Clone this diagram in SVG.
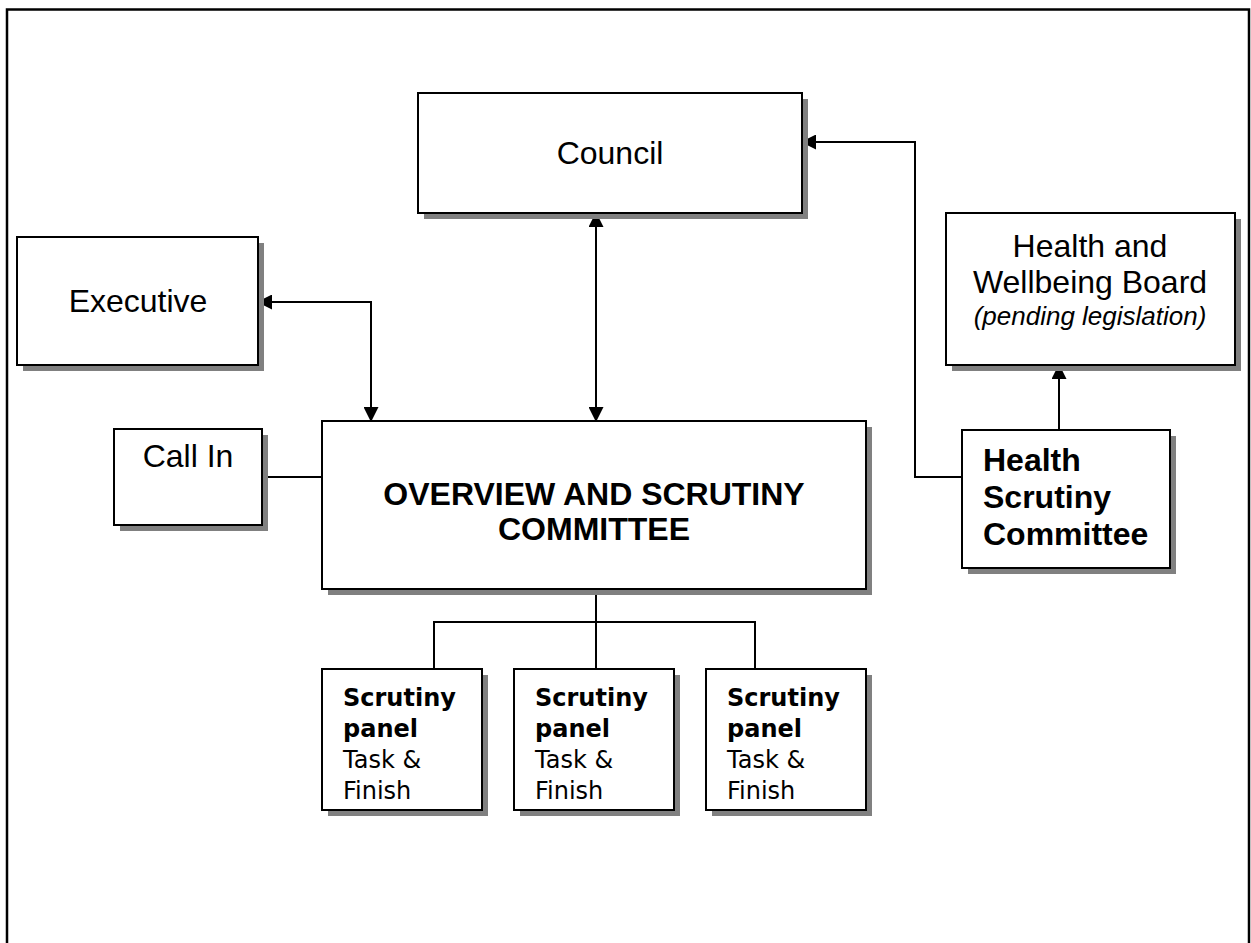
<svg xmlns="http://www.w3.org/2000/svg" width="1251" height="943" viewBox="0 0 1251 943">
<defs>
<marker id="arr" markerWidth="15" markerHeight="15" refX="14" refY="7.5" orient="auto-start-reverse" markerUnits="userSpaceOnUse"><path d="M0,0 L15,7.5 L0,15 Z" fill="#000"/></marker>
</defs>
<style>
.box{fill:#fff;stroke:#000;stroke-width:2}
.sh{fill:#808080}
.c{fill:none;stroke:#000;stroke-width:2}
.t{font-family:"Liberation Sans",Arial,sans-serif;font-size:32px;fill:#000;text-anchor:middle}
.b{font-weight:bold}
.i{font-style:italic;font-size:26px}
.l{text-anchor:start}
.v{font-family:"DejaVu Sans",Verdana,sans-serif;font-size:24px;fill:#000}
</style>
<rect x="7" y="9.5" width="1242" height="960" fill="none" stroke="#000" stroke-width="2.5"/>
<g id="connectors">
<path class="c" d="M596,213 V421" marker-start="url(#arr)" marker-end="url(#arr)"/>
<path class="c" d="M258,302 H371 V421" marker-start="url(#arr)" marker-end="url(#arr)"/>
<path class="c" d="M962,477 H915 V142 H802" marker-end="url(#arr)"/>
<path class="c" d="M1059,430 V365" marker-end="url(#arr)"/>
<path class="c" d="M262,477 H322"/>
<path class="c" d="M596,589 V669"/>
<path class="c" d="M434,669 V622 H755 V669"/>
</g>
<g id="council">
<rect class="sh" x="424" y="99" width="384" height="120"/>
<rect class="box" x="418" y="93" width="384" height="120"/>
<text class="t" x="610" y="164">Council</text>
</g>
<g id="executive">
<rect class="sh" x="23" y="243" width="241" height="128"/>
<rect class="box" x="17" y="237" width="241" height="128"/>
<text class="t" x="138" y="312">Executive</text>
</g>
<g id="callin">
<rect class="sh" x="120" y="435" width="148" height="96"/>
<rect class="box" x="114" y="429" width="148" height="96"/>
<text class="t" x="188" y="467">Call In</text>
</g>
<g id="overview">
<rect class="sh" x="328" y="427" width="544" height="168"/>
<rect class="box" x="322" y="421" width="544" height="168"/>
<text class="t b" x="594" y="505">OVERVIEW AND SCRUTINY</text>
<text class="t b" x="594" y="540">COMMITTEE</text>
</g>
<g id="hwb">
<rect class="sh" x="952" y="219" width="289" height="152"/>
<rect class="box" x="946" y="213" width="289" height="152"/>
<text class="t" x="1090" y="257">Health and</text>
<text class="t" x="1090" y="293">Wellbeing Board</text>
<text class="t i" x="1090" y="325">(pending legislation)</text>
</g>
<g id="hsc">
<rect class="sh" x="968" y="436" width="208" height="138"/>
<rect class="box" x="962" y="430" width="208" height="138"/>
<text class="t b l" x="983" y="471">Health</text>
<text class="t b l" x="983" y="508">Scrutiny</text>
<text class="t b l" x="983" y="545">Committee</text>
</g>
<g id="panel1">
<rect class="sh" x="328" y="675" width="160" height="141"/>
<rect class="box" x="322" y="669" width="160" height="141"/>
<text class="v" x="343" y="706"><tspan font-weight="bold">Scrutiny</tspan><tspan x="343" dy="31" font-weight="bold">panel</tspan><tspan x="343" dy="31">Task &amp;</tspan><tspan x="343" dy="31">Finish</tspan></text>
</g>
<g id="panel2">
<rect class="sh" x="520" y="675" width="160" height="141"/>
<rect class="box" x="514" y="669" width="160" height="141"/>
<text class="v" x="535" y="706"><tspan font-weight="bold">Scrutiny</tspan><tspan x="535" dy="31" font-weight="bold">panel</tspan><tspan x="535" dy="31">Task &amp;</tspan><tspan x="535" dy="31">Finish</tspan></text>
</g>
<g id="panel3">
<rect class="sh" x="712" y="675" width="160" height="141"/>
<rect class="box" x="706" y="669" width="160" height="141"/>
<text class="v" x="727" y="706"><tspan font-weight="bold">Scrutiny</tspan><tspan x="727" dy="31" font-weight="bold">panel</tspan><tspan x="727" dy="31">Task &amp;</tspan><tspan x="727" dy="31">Finish</tspan></text>
</g>
</svg>
